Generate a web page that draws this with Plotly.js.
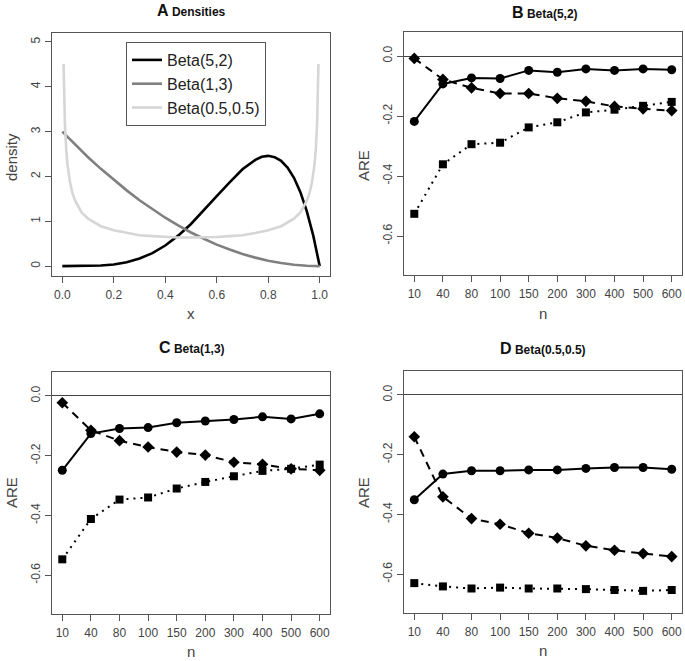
<!DOCTYPE html>
<html>
<head>
<meta charset="utf-8">
<script src="https://cdn.plot.ly/plotly-3.0.1.min.js"></script>
<style>html,body{margin:0;padding:0;background:#fff;}#chart{width:685px;height:661px;}</style>
</head>
<body>
<div id="chart"></div>
<script>
// ---------- Panel A: densities ----------
const xB52 = [0,0.05,0.1,0.15,0.2,0.25,0.3,0.35,0.4,0.45,0.5,0.55,0.6,0.65,0.7,0.75,0.775,0.8,0.825,0.85,0.875,0.9,0.925,0.95,0.975,1];
const yB52 = [0,0,0.003,0.013,0.038,0.088,0.17,0.29,0.46,0.68,0.94,1.24,1.56,1.87,2.16,2.37,2.44,2.46,2.43,2.35,2.2,1.97,1.65,1.22,0.68,0];
const xB13 = [0,0.05,0.1,0.15,0.2,0.25,0.3,0.35,0.4,0.45,0.5,0.55,0.6,0.65,0.7,0.75,0.8,0.85,0.9,0.95,1];
const yB13 = [3,2.71,2.43,2.17,1.92,1.69,1.47,1.27,1.08,0.91,0.75,0.61,0.48,0.37,0.27,0.19,0.12,0.07,0.03,0.01,0];
const xB05 = [0.005,0.0075,0.01,0.015,0.02,0.03,0.04,0.05,0.075,0.1,0.15,0.2,0.25,0.3,0.35,0.4,0.45,0.5,0.55,0.6,0.65,0.7,0.75,0.8,0.85,0.9,0.925,0.95,0.96,0.97,0.98,0.985,0.99,0.9925,0.995];
const yB05 = [4.51,3.68,3.2,2.62,2.27,1.87,1.62,1.46,1.2,1.06,0.89,0.8,0.74,0.69,0.67,0.65,0.64,0.64,0.64,0.65,0.67,0.69,0.74,0.8,0.89,1.06,1.2,1.46,1.62,1.87,2.27,2.62,3.2,3.68,4.51];
const densityNames = ['Beta(5,2)','Beta(1,3)','Beta(0.5,0.5)'];

// ---------- Panels B-D: ARE by sample size ----------
const nCats = ['10','40','80','100','150','200','300','400','500','600'];
const B_circle  = [-0.218,-0.093,-0.073,-0.075,-0.048,-0.054,-0.043,-0.048,-0.043,-0.046];
const B_diamond = [-0.008,-0.078,-0.106,-0.125,-0.125,-0.141,-0.151,-0.168,-0.176,-0.182];
const B_square  = [-0.526,-0.361,-0.294,-0.289,-0.238,-0.221,-0.188,-0.179,-0.166,-0.153];
const C_circle  = [-0.249,-0.126,-0.109,-0.106,-0.090,-0.084,-0.079,-0.070,-0.077,-0.060];
const C_diamond = [-0.023,-0.115,-0.150,-0.171,-0.188,-0.198,-0.222,-0.229,-0.244,-0.249];
const C_square  = [-0.547,-0.412,-0.347,-0.340,-0.310,-0.288,-0.269,-0.251,-0.244,-0.230];
const D_circle  = [-0.351,-0.265,-0.254,-0.254,-0.251,-0.251,-0.246,-0.243,-0.243,-0.249];
const D_diamond = [-0.140,-0.341,-0.414,-0.433,-0.463,-0.479,-0.505,-0.520,-0.531,-0.541];
const D_square  = [-0.630,-0.641,-0.648,-0.645,-0.648,-0.648,-0.650,-0.653,-0.656,-0.653];
const areTickVals = [0,-0.2,-0.4,-0.6];
const areTickText = ['0.0','-0.2','-0.4','-0.6'];

const FONT = 'Liberation Sans, Arial, sans-serif';
const AXC = '#555';
const TXT = '#444';

function densTrace(x, y, name, color){
  return {x:x, y:y, name:name, type:'scatter', mode:'lines', xaxis:'x', yaxis:'y',
          line:{color:color, width:2.6}, showlegend:true};
}
function areTraces(ax, circ, diam, sq){
  const xa = 'x'+ax, ya = 'y'+ax;
  return [
    {x:nCats, y:circ, type:'scatter', mode:'lines+markers', xaxis:xa, yaxis:ya, showlegend:false,
     line:{color:'#000', width:2, dash:'solid'}, marker:{symbol:'circle', size:9, color:'#000'}},
    {x:nCats, y:diam, type:'scatter', mode:'lines+markers', xaxis:xa, yaxis:ya, showlegend:false,
     line:{color:'#000', width:2, dash:'8px,6px'}, marker:{symbol:'diamond', size:9, color:'#000'}},
    {x:nCats, y:sq, type:'scatter', mode:'lines+markers', xaxis:xa, yaxis:ya, showlegend:false,
     line:{color:'#000', width:2, dash:'2px,5px'}, marker:{symbol:'square', size:8, color:'#000'}}
  ];
}

const data = [
  densTrace(xB52, yB52, densityNames[0], '#000000'),
  densTrace(xB13, yB13, densityNames[1], '#808080'),
  densTrace(xB05, yB05, densityNames[2], '#d6d6d6'),
  ...areTraces(2, B_circle, B_diamond, B_square),
  ...areTraces(3, C_circle, C_diamond, C_square),
  ...areTraces(4, D_circle, D_diamond, D_square)
];

const W = 685, H = 661;
const px = v => v / W;
const py = v => 1 - v / H;

const baseAx = {
  showgrid:false, showline:true, mirror:true, linecolor:AXC, linewidth:1,
  ticks:'outside', ticklen:6, tickcolor:AXC, tickwidth:1,
  tickfont:{family:FONT, size:12, color:TXT}, zeroline:false, fixedrange:true
};
function xCat(domain, anchor){
  return Object.assign({}, baseAx, {domain:domain, anchor:anchor, type:'category',
    range:[-0.36, 9.36], ticklabelstandoff:2});
}
function yAre(domain, anchor){
  return Object.assign({}, baseAx, {domain:domain, anchor:anchor, range:[-0.73, 0.08],
    tickvals:areTickVals, ticktext:areTickText, tickangle:-90, ticklabelstandoff:0,
    zeroline:true, zerolinecolor:'#444', zerolinewidth:1});
}

const dxL = [px(52), px(330)], dxR = [px(404), px(682)];
const layout = {
  width:W, height:H, margin:{l:0, r:0, t:0, b:0},
  paper_bgcolor:'#fff', plot_bgcolor:'#fff',
  font:{family:FONT, color:TXT},
  xaxis: Object.assign({}, baseAx, {domain:dxL, anchor:'y', range:[-0.04,1.04], dtick:0.2, tick0:0, tickformat:'.1f', ticklabelstandoff:2}),
  yaxis: Object.assign({}, baseAx, {domain:[py(276), py(33)], anchor:'x', range:[-0.22,5.2], dtick:1, tick0:0, tickangle:-90, ticklabelstandoff:0}),
  xaxis2: xCat(dxR, 'y2'),
  yaxis2: yAre([py(275), py(32)], 'x2'),
  xaxis3: xCat(dxL, 'y3'),
  yaxis3: yAre([py(614), py(372)], 'x3'),
  xaxis4: xCat(dxR, 'y4'),
  yaxis4: yAre([py(613), py(371)], 'x4'),
  showlegend:true,
  legend:{x:px(126), y:py(42), xanchor:'left', yanchor:'top', bgcolor:'#fff',
          bordercolor:AXC, borderwidth:1, font:{family:FONT, size:16, color:'#222'},
          itemwidth:30, tracegroupgap:0},
  annotations:[]
};

function title(letter, rest, cx, cy){
  return {xref:'paper', yref:'paper', x:px(cx), y:py(cy), xanchor:'center', yanchor:'middle', showarrow:false,
    text:'<b><span style="font-size:16px">'+letter+'</span> <span style="font-size:12px">'+rest+'</span></b>',
    font:{family:FONT, color:'#111'}};
}
function label(txt, cx, cy, angle){
  return {xref:'paper', yref:'paper', x:px(cx), y:py(cy), xanchor:'center', yanchor:'middle', showarrow:false,
    text:txt, textangle:angle||0, font:{family:FONT, size:15, color:TXT}};
}
layout.annotations.push(
  title('A','Densities',191,10),
  title('B','Beta(5,2)',545,13),
  title('C','Beta(1,3)',192,347),
  title('D','Beta(0.5,0.5)',543,348),
  label('x',191,313),
  label('n',543,313),
  label('n',191,651),
  label('n',543,650),
  label('density',11,157,-90),
  label('ARE',363,166,-90),
  label('ARE',11,493,-90),
  label('ARE',363,493,-90)
);

Plotly.newPlot('chart', data, layout, {displayModeBar:false, staticPlot:true});
</script>
</body>
</html>
